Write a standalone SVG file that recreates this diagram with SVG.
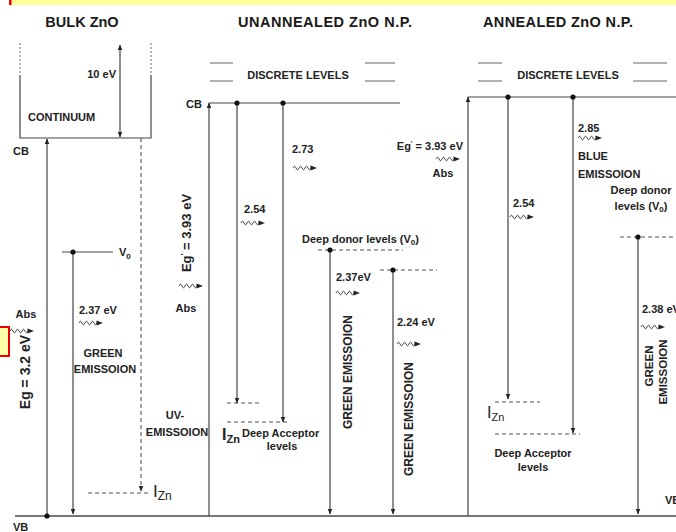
<svg xmlns="http://www.w3.org/2000/svg" xmlns:xlink="http://www.w3.org/1999/xlink" width="676" height="532" viewBox="0 0 676 532">
<style>
text{font-family:"Liberation Sans",Arial,sans-serif;font-weight:bold;font-size:11px;fill:#222}
.t{font-size:14.5px;fill:#1a1a1a}
.r{font-weight:normal}
.ln{stroke:#444;stroke-width:1.2;fill:none}
.lg{stroke:#666;stroke-width:1.1;fill:none}
.dt{stroke:#777;stroke-width:1.1;stroke-dasharray:2 2;fill:none}
.ds{stroke:#555;stroke-width:1.1;stroke-dasharray:4 3;fill:none}
.ar{marker-end:url(#ah)}
.dot{fill:#111}
.mid{text-anchor:middle}
.end{text-anchor:end}
</style>
<defs>
<marker id="ah" viewBox="0 0 10 10" refX="9" refY="5" markerWidth="6" markerHeight="6" markerUnits="userSpaceOnUse" orient="auto-start-reverse"><path d="M0,1 L10,5 L0,9z" fill="#222"/></marker>
<g id="wv"><path d="M0,0 q1.5,-3.5 3,0 t3,0 t3,0 t3,0 t3,0 t3,0" fill="none" stroke="#333" stroke-width="0.9"/><path d="M17.5,-2.6 L24,0 L17.5,2.6z" fill="#222"/></g>
</defs>
<rect width="676" height="532" fill="#fff"/>
<g id="banner">
<rect x="10" y="0" width="666" height="5" fill="#ffff99"/>
<rect x="9" y="0" width="2.5" height="5" fill="#e00"/>
<rect x="-2" y="327" width="11" height="29" fill="#ffffaa" stroke="#e00" stroke-width="2"/>
</g>
<g id="titles">
<text class="t mid" x="82" y="27">BULK ZnO</text>
<text class="t mid" x="325" y="27" textLength="174">UNANNEALED ZnO N.P.</text>
<text class="t mid" x="558" y="27" textLength="150">ANNEALED ZnO N.P.</text>
</g>
<g id="vb-line"><path d="M15,516 H676" stroke="#777" stroke-width="2"/></g>
<g id="bulk">
<path class="dt" d="M20,43 V75 M151,43 V75"/>
<path class="ln" d="M20,75 V138 H151 V75"/>
<text x="28" y="121">CONTINUUM</text>
<text class="end" x="116" y="78">10 eV</text>
<text x="13" y="155">CB</text>
<text x="13" y="531">VB</text>
<path class="ln" d="M62,252 H113"/>
<text x="119" y="256">V<tspan font-size="8" dy="3">0</tspan></text>
<text x="79" y="314">2.37 eV</text>
<use href="#wv" x="79" y="323"/>
<text class="mid" x="103" y="357">GREEN</text>
<text class="mid" x="105" y="373">EMISSOION</text>
<text class="mid" x="26" y="318">Abs</text>
<use href="#wv" x="10" y="331"/>
<text class="mid" transform="translate(30,372) rotate(-90)" style="font-size:14px">Eg = 3.2 eV</text>
<path class="ds" d="M88,493 H150"/>
<text class="r" x="153" y="497" style="font-size:17px">I<tspan font-size="12" dy="3">Zn</tspan></text>
<text class="mid" x="175" y="419">UV-</text>
<text class="mid" x="177" y="436">EMISSOION</text>
</g>
<g id="unannealed">
<path class="lg" d="M210,63 H233 M210,81 H233 M365,63 H395 M365,81 H395"/>
<text class="mid" x="298" y="79">DISCRETE LEVELS</text>
<text x="186" y="108">CB</text>
<path class="ln" d="M209,103 H400"/>
<text x="292" y="153">2.73</text>
<use href="#wv" x="293" y="168"/>
<text x="244" y="213">2.54</text>
<use href="#wv" x="241" y="223"/>
<text class="mid" transform="translate(191,233) rotate(-90)" style="font-size:13px">Eg<tspan font-size="8" dy="-5">'</tspan><tspan dy="5"> = 3.93 eV</tspan></text>
<use href="#wv" x="179" y="286"/>
<text class="mid" x="186" y="312">Abs</text>
<text x="302" y="243">Deep donor levels (V<tspan font-size="8" dy="2">0</tspan><tspan dy="-2">)</tspan></text>
<path class="ds" d="M318,250 H403"/>
<path class="ds" d="M380,270 H437"/>
<text x="336" y="281">2.37eV</text>
<use href="#wv" x="336" y="293"/>
<text class="mid" transform="translate(352,372) rotate(-90)" style="font-size:12px">GREEN EMISSOION</text>
<text x="397" y="326">2.24 eV</text>
<use href="#wv" x="397" y="344"/>
<text class="mid" transform="translate(413,419) rotate(-90)" style="font-size:12px">GREEN EMISSOION</text>
<path class="ds" d="M227,403 H260"/>
<path class="ds" d="M227,422 H288"/>
<text x="222" y="440" style="font-size:16px">I<tspan font-size="11" dy="3">Zn</tspan></text>
<text x="242" y="437">Deep Acceptor</text>
<text class="mid" x="282" y="450">levels</text>
</g>
<g id="annealed">
<path class="lg" d="M478,63 H502 M478,81 H502 M633,63 H667 M633,81 H667"/>
<text class="mid" x="568" y="79">DISCRETE LEVELS</text>
<path class="ln" d="M468,97 H676"/>
<text class="end" x="463" y="150">Eg<tspan font-size="7" dy="-4">'</tspan><tspan dy="4"> = 3.93 eV</tspan></text>
<use href="#wv" x="436" y="159"/>
<text class="mid" x="443" y="177">Abs</text>
<text x="578" y="132">2.85</text>
<use href="#wv" x="578" y="138"/>
<text x="578" y="160">BLUE</text>
<text x="578" y="178">EMISSOION</text>
<text x="513" y="207">2.54</text>
<use href="#wv" x="510" y="217"/>
<text class="mid" x="641" y="194">Deep donor</text>
<text class="mid" x="641" y="210">levels (V<tspan font-size="8" dy="2">0</tspan><tspan dy="-2">)</tspan></text>
<path class="ds" d="M620,237 H676"/>
<text x="642" y="313">2.38 eV</text>
<use href="#wv" x="641" y="327"/>
<text class="mid" transform="translate(653,366) rotate(-90)" style="font-size:11.5px">GREEN</text>
<text class="mid" transform="translate(667,372) rotate(-90)" style="font-size:11.5px">EMISSOION</text>
<path class="ds" d="M495,402 H540"/>
<path class="ds" d="M495,434 H580"/>
<text class="r" x="487" y="418" style="font-size:16px">I<tspan font-size="11" dy="3">Zn</tspan></text>
<text class="mid" x="533" y="457">Deep Acceptor</text>
<text class="mid" x="533" y="471">levels</text>
<text x="665" y="504">VB</text>
</g>
<g id="connectors">
<path class="ln ar" d="M120,137 V45" marker-start="url(#ah)"/>
<path class="ln ar" d="M47,516 V139"/>
<path class="ds ar" d="M141,138 V491"/>
<path class="ln ar" d="M73,252 V514"/>
<path class="ln ar" d="M209,516 V103"/>
<path class="ln ar" d="M237,103 V403"/>
<path class="ln ar" d="M283,103 V422"/>
<path class="ln ar" d="M330,250 V514"/>
<path class="ln ar" d="M393,270 V514"/>
<path class="ln ar" d="M468,516 V97"/>
<path class="ln ar" d="M508,97 V399"/>
<path class="ln ar" d="M573,97 V433"/>
<path class="ln ar" d="M638,237 V514"/>
<circle class="dot" cx="47" cy="516" r="2.6"/>
<circle class="dot" cx="73" cy="252" r="2.6"/>
<circle class="dot" cx="237" cy="103" r="2.6"/>
<circle class="dot" cx="283" cy="103" r="2.6"/>
<circle class="dot" cx="330" cy="250" r="2.6"/>
<circle class="dot" cx="393" cy="270" r="2.6"/>
<circle class="dot" cx="508" cy="97" r="2.6"/>
<circle class="dot" cx="573" cy="97" r="2.6"/>
<circle class="dot" cx="638" cy="237" r="2.6"/>
</g>
</svg>
